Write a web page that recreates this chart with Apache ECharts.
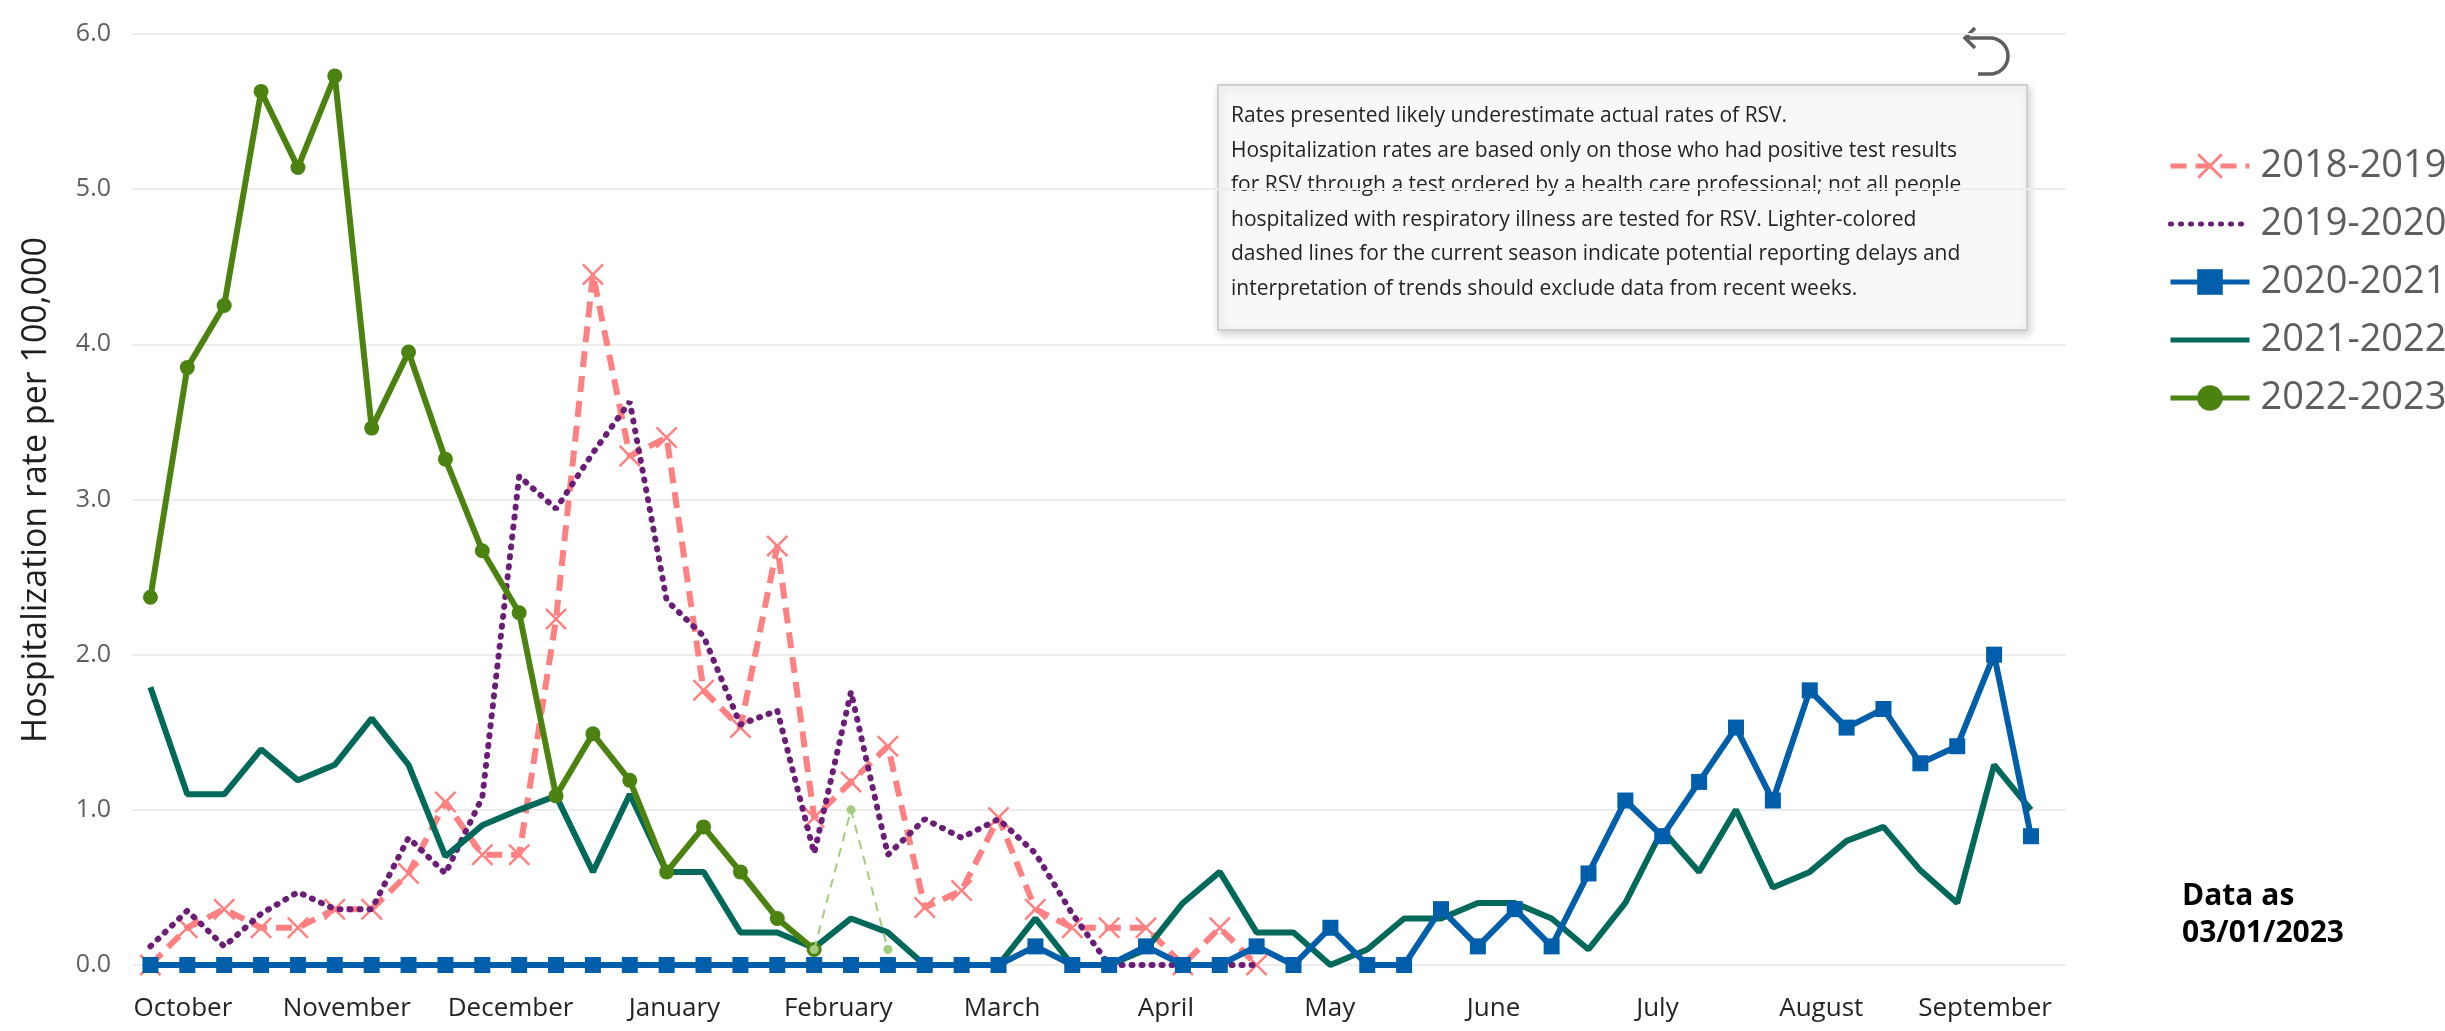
<!DOCTYPE html>
<html>
<head>
<meta charset="utf-8">
<title>RSV hospitalization rate</title>
<script src="https://cdn.jsdelivr.net/npm/echarts@6/dist/echarts.min.js"></script>
<style>
  html, body { margin: 0; padding: 0; background: #fff; }
  #rsvChart { width: 2445px; height: 1031px; }
</style>
</head>
<body>
<div id="rsvChart"></div>
<script>
// month labels on the x axis
const months = ['October', 'November', 'December', 'January', 'February', 'March',
  'April', 'May', 'June', 'July', 'August', 'September'];

// weekly rates, week 0 = first week of October
const season1819 = [0.0, 0.24, 0.36, 0.24, 0.24, 0.36, 0.36, 0.59, 1.05, 0.71, 0.71, 2.23, 4.45,
  3.28, 3.40, 1.77, 1.53, 2.70, 0.95, 1.18, 1.41, 0.37, 0.48, 0.95, 0.36, 0.24, 0.24, 0.24, 0.0, 0.24, 0.0];
const season1920 = [0.12, 0.35, 0.12, 0.33, 0.47, 0.36, 0.36, 0.82, 0.59, 1.08, 3.15, 2.94, 3.30,
  3.63, 2.35, 2.12, 1.55, 1.64, 0.72, 1.76, 0.71, 0.94, 0.82, 0.94, 0.72, 0.33, 0.0, 0.0, 0.0, 0.0, 0.0];
const season2021 = [0, 0, 0, 0, 0, 0, 0, 0, 0, 0, 0, 0, 0, 0, 0, 0, 0, 0, 0, 0, 0, 0, 0, 0,
  0.12, 0, 0, 0.12, 0, 0, 0.12, 0, 0.24, 0, 0, 0.36, 0.12, 0.36, 0.12, 0.59, 1.06, 0.83, 1.18,
  1.53, 1.06, 1.77, 1.53, 1.65, 1.30, 1.41, 2.00, 0.83];
const season2122 = [1.79, 1.10, 1.10, 1.39, 1.19, 1.29, 1.59, 1.29, 0.70, 0.90, 1.00, 1.09, 0.60,
  1.10, 0.60, 0.60, 0.21, 0.21, 0.11, 0.30, 0.21, 0.0, 0.0, 0.0, 0.30, 0.0, 0.0, 0.10, 0.40, 0.60,
  0.21, 0.21, 0.0, 0.10, 0.30, 0.30, 0.40, 0.40, 0.30, 0.10, 0.40, 0.87, 0.60, 1.00, 0.50, 0.60,
  0.80, 0.89, 0.61, 0.40, 1.29, 1.00];
const season2223 = [2.37, 3.85, 4.25, 5.63, 5.14, 5.73, 3.46, 3.95, 3.26, 2.67, 2.27, 1.09, 1.49,
  1.19, 0.60, 0.89, 0.60, 0.30, 0.10];
// recent weeks of the current season (reporting delays)
const recentStart = 18;
const season2223Recent = [0.10, 1.00, 0.10];

const yTicks = [0, 1, 2, 3, 4, 5, 6];

const FONT = '"Segoe UI", "Open Sans", sans-serif';
const crossPath = 'path://M0,0.8L0.8,0L5,4.2L9.2,0L10,0.8L5.8,5L10,9.2L9.2,10L5,5.8L0.8,10L0,9.2L4.2,5Z';
const noSymbol = { color: 'rgba(0,0,0,0)', borderWidth: 0 };

const toPoints = (arr, start = 0) => arr.map((v, i) => [i + start, v]);

const chart = echarts.init(document.getElementById('rsvChart'));

const option = {
  animation: false,
  backgroundColor: '#ffffff',
  textStyle: { fontFamily: FONT },
  grid: [
    { left: 132, right: 379, top: 34, bottom: 66 },
    // only carries the month labels
    { left: 101, width: 1966, top: 34, bottom: 66 },
  ],
  xAxis: [
    { type: 'value', gridIndex: 0, min: -0.5, max: 51.95, show: false },
    {
      type: 'category',
      gridIndex: 1,
      data: months,
      boundaryGap: true,
      axisLine: { show: false },
      axisTick: { show: false },
      axisLabel: { interval: 0, fontSize: 26, color: '#252423', margin: 31, fontFamily: FONT },
    },
  ],
  yAxis: [
    {
      type: 'value',
      gridIndex: 0,
      min: yTicks[0],
      max: yTicks[yTicks.length - 1],
      interval: 1,
      axisLine: { show: false },
      axisTick: { show: false },
      axisLabel: {
        fontSize: 25,
        color: '#605E5C',
        margin: 21,
        fontFamily: FONT,
        formatter: (v) => v.toFixed(1),
      },
      splitLine: { lineStyle: { color: '#EDEDED', width: 2 } },
    },
    { type: 'value', gridIndex: 1, show: false, min: 0, max: 6 },
  ],
  legend: {
    orient: 'vertical',
    left: 2163,
    top: 141,
    itemWidth: 79,
    itemHeight: 32,
    itemGap: 18,
    lineStyle: { width: 5 },
    data: [
      '2018-2019',
      { name: '2019-2020', itemStyle: noSymbol },
      '2020-2021',
      { name: '2021-2022', itemStyle: noSymbol },
      '2022-2023',
    ],
    textStyle: { fontSize: 38, color: '#605E5C', lineHeight: 40, padding: [0, 0, 0, 6], fontFamily: FONT },
  },
  series: [
    {
      name: '2018-2019',
      type: 'line',
      data: toPoints(season1819),
      symbol: crossPath,
      symbolSize: 22,
      itemStyle: { color: '#FF8080' },
      lineStyle: { color: '#FF8080', width: 6, type: [16, 9] },
      z: 2,
    },
    {
      name: '2019-2020',
      type: 'line',
      data: toPoints(season1920),
      symbol: 'none',
      itemStyle: { color: '#6B1D78' },
      lineStyle: { color: '#6B1D78', width: 6, type: [1, 9], cap: 'round' },
      z: 3,
    },
    {
      name: '2021-2022',
      type: 'line',
      data: toPoints(season2122),
      symbol: 'none',
      itemStyle: { color: '#00695A' },
      lineStyle: { color: '#00695A', width: 6 },
      z: 4,
    },
    {
      name: '2020-2021',
      type: 'line',
      data: toPoints(season2021),
      symbol: 'rect',
      symbolSize: 16,
      itemStyle: { color: '#005EAA' },
      lineStyle: { color: '#005EAA', width: 6 },
      z: 5,
    },
    {
      name: '2022-2023',
      type: 'line',
      data: toPoints(season2223),
      symbol: 'circle',
      symbolSize: 15,
      itemStyle: { color: '#4C820F' },
      lineStyle: { color: '#4C820F', width: 6 },
      z: 6,
    },
    {
      name: '2022-2023 recent',
      type: 'line',
      data: toPoints(season2223Recent, recentStart),
      symbol: 'circle',
      symbolSize: 9,
      itemStyle: { color: '#A3CC7E' },
      lineStyle: { color: '#A3CC7E', width: 2, type: [9, 7] },
      z: 7,
    },
  ],
  graphic: [
    {
      type: 'text',
      x: 36,
      y: 490,
      rotation: Math.PI / 2,
      style: {
        text: 'Hospitalization rate per 100,000',
        fontSize: 34,
        fontFamily: FONT,
        fill: '#201F1E',
        textAlign: 'center',
        textVerticalAlign: 'middle',
      },
    },
    {
      type: 'group',
      children: [
        {
          type: 'rect',
          shape: { x: 1218, y: 85, width: 809, height: 245 },
          style: {
            fill: '#F8F8F8',
            stroke: '#D0D0D0',
            lineWidth: 2,
            shadowBlur: 8,
            shadowOffsetX: 2,
            shadowOffsetY: 3,
            shadowColor: 'rgba(0,0,0,0.18)',
          },
        },
        {
          type: 'text',
          x: 1231,
          y: 99,
          style: {
            text: [
              'Rates presented likely underestimate actual rates of RSV.',
              'Hospitalization rates are based only on those who had positive test results',
              'for RSV through a test ordered by a health care professional; not all people',
              'hospitalized with respiratory illness are tested for RSV. Lighter-colored',
              'dashed lines for the current season indicate potential reporting delays and',
              'interpretation of trends should exclude data from recent weeks.',
            ].join('\n'),
            fontSize: 21,
            lineHeight: 34.5,
            fontFamily: FONT,
            fill: '#252423',
          },
        },
      ],
    },
    {
      type: 'group',
      children: [
        { type: 'polyline', shape: { points: [[1975, 28], [1965, 38], [1975, 48]] },
          style: { stroke: '#605E5C', lineWidth: 3.5, fill: null } },
        { type: 'line', shape: { x1: 1965, y1: 38, x2: 1990, y2: 38 },
          style: { stroke: '#605E5C', lineWidth: 3.5 } },
        { type: 'arc', shape: { cx: 1990, cy: 56, r: 18, startAngle: -Math.PI / 2, endAngle: Math.PI / 2 },
          style: { stroke: '#605E5C', lineWidth: 3.5, fill: null } },
        { type: 'line', shape: { x1: 1990, y1: 74, x2: 1978, y2: 74 },
          style: { stroke: '#605E5C', lineWidth: 3.5 } },
      ],
    },
    {
      type: 'text',
      x: 2182,
      y: 878,
      style: {
        text: 'Data as\n03/01/2023',
        fontSize: 30,
        fontWeight: 'bold',
        lineHeight: 37,
        fontFamily: FONT,
        fill: '#000000',
      },
    },
  ],
};

chart.setOption(option);
</script>
</body>
</html>
